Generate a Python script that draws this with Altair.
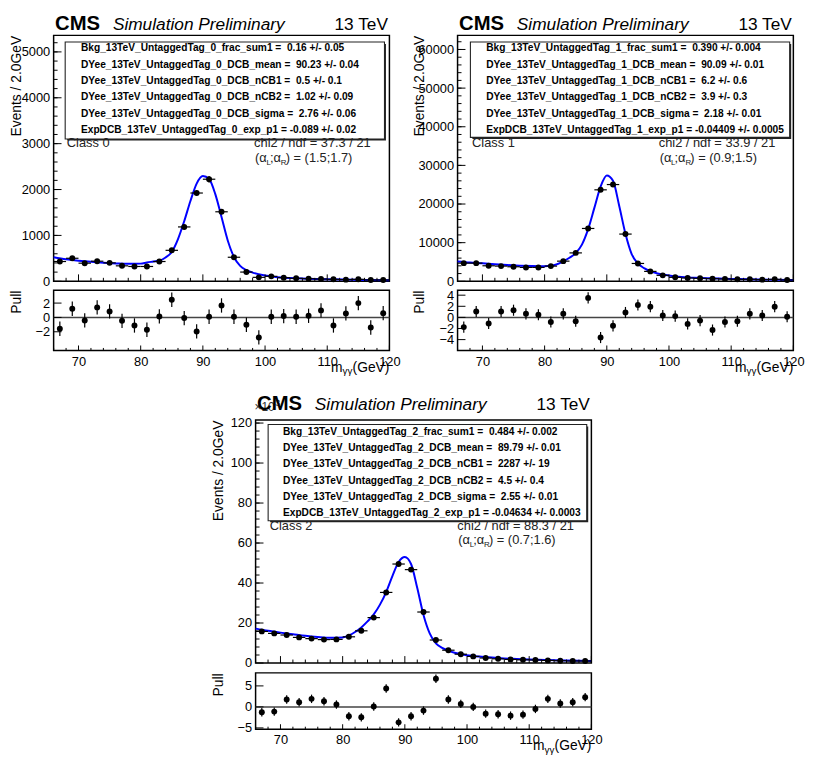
import altair as alt
import pandas as pd

FONT = "Liberation Sans"

# ---------------- data ----------------
mass = [67, 69, 71, 73, 75, 77, 79, 81, 83, 85, 87, 89, 91, 93, 95, 97, 99,
        101, 103, 105, 107, 109, 111, 113, 115, 117, 119]

events_0 = [431, 502, 395, 438, 402, 337, 323, 323, 431, 675, 1185, 1924, 2225,
            1515, 524, 201, 86, 108, 79, 65, 57, 50, 43, 36, 43, 29, 29]
errors_0 = [22, 23, 21, 22, 21, 19, 19, 19, 21, 27, 40, 55, 70, 50, 25, 15, 10,
            10, 9, 8, 8, 7, 7, 6, 7, 6, 6]
pulls_0 = [-1.58, 1.21, -0.42, 1.40, 0.84, -0.47, -1.12, -1.72, 0.14, 2.47, -0.09,
           -1.95, 0.09, 1.67, 0.09, -1.02, -2.79, 0.09, 0.19, 0.09, 0.23, 0.98,
           -1.12, 0.56, 2.0, -1.40, 0.6]
curve_m_0 = [66, 68, 70, 72, 74, 76, 78, 80, 81, 82, 83, 84, 85, 86, 87, 88, 89, 90,
             91, 92, 93, 94, 95, 96, 97, 98, 100, 102, 104, 106, 108, 110, 113, 116, 120]
curve_v_0 = [525, 480, 450, 425, 405, 390, 380, 385, 410, 430, 450, 520, 640, 920,
             1310, 1750, 2130, 2295, 2230, 1900, 1400, 890, 530, 335, 245, 190, 125,
             90, 72, 60, 52, 45, 38, 30, 22]

events_1 = [4700, 4700, 4017, 3932, 3761, 3590, 3590, 3932, 5214, 7350, 13675, 23675,
            25040, 12222, 4615, 2564, 1538, 1026, 855, 769, 684, 598, 513, 513, 427,
            513, 342]
errors_1 = [180, 180, 170, 170, 165, 160, 160, 165, 190, 230, 320, 420, 430, 300,
            180, 130, 100, 80, 75, 70, 65, 60, 55, 55, 50, 55, 45]
pulls_1 = [-1.75, 1.05, -1.11, 1.05, 1.29, 0.64, 0.47, -0.82, 0.64, -0.70, 3.51,
           -3.63, -1.52, 0.88, 2.22, 1.93, 0.35, 0.23, -1.17, -0.58, -2.28, -0.82,
           -0.70, 0.64, 0.35, 1.93, 0.12]
curve_m_1 = [66, 68, 70, 72, 74, 76, 78, 80, 81, 82, 83, 84, 85, 86, 87, 88, 89, 90,
             91, 92, 93, 94, 95, 96, 97, 98, 100, 102, 104, 106, 108, 110, 113, 116, 120]
curve_v_1 = [5130, 4850, 4650, 4400, 4200, 4050, 3950, 3900, 4000, 4400, 5150, 6100,
             7300, 9500, 13500, 19000, 24500, 27400, 26000, 19500, 12300, 7050, 4600,
             3400, 2600, 2100, 1500, 1100, 920, 800, 700, 620, 520, 430, 340]

events_2 = [15.8, 14.8, 14.0, 12.8, 12.2, 11.7, 11.8, 13.1, 16.1, 22.7, 35.3, 49.5,
            46.7, 25.5, 11.5, 6.4, 4.4, 3.3, 2.5, 2.1, 1.8, 1.6, 1.5, 1.3, 1.15, 1.0, 1.0]
errors_2 = [0.4, 0.4, 0.4, 0.35, 0.35, 0.35, 0.35, 0.35, 0.4, 0.5, 0.6, 0.7, 0.7, 0.5,
            0.35, 0.25, 0.2, 0.18, 0.15, 0.14, 0.13, 0.12, 0.12, 0.11, 0.1, 0.1, 0.1]
pulls_2 = [-1.28, -1.12, 1.76, 1.12, 1.92, 1.36, 0.56, -2.24, -2.48, 0.08, 4.4, -3.68,
           -2.24, -0.88, 6.72, 1.76, 0.72, 0.0, -1.6, -1.76, -2.08, -1.84, -0.48, 1.92,
           0.8, 1.12, 2.32]
curve_m_2 = [66, 68, 70, 72, 74, 76, 78, 80, 81, 82, 83, 84, 85, 86, 87, 88, 89, 90,
             91, 92, 93, 94, 95, 96, 97, 98, 100, 102, 104, 106, 108, 110, 113, 116, 120]
curve_v_2 = [17.2, 16.1, 15.2, 14.4, 13.6, 13.0, 12.6, 12.8, 13.8, 15.5, 17.8, 20.8,
             24.3, 29.2, 35.5, 43.5, 50.5, 53.0, 49.5, 37.5, 24.0, 14.8, 9.8, 7.6, 6.2,
             5.1, 3.9, 3.2, 2.7, 2.3, 2.0, 1.75, 1.5, 1.25, 1.0]

NB = "\u00a0"
params_0 = ["Bkg_13TeV_UntaggedTag_0_frac_sum1 =" + NB + " 0.16 +/- 0.05",
            "DYee_13TeV_UntaggedTag_0_DCB_mean =" + NB + " 90.23 +/- 0.04",
            "DYee_13TeV_UntaggedTag_0_DCB_nCB1 =" + NB + " 0.5 +/- 0.1",
            "DYee_13TeV_UntaggedTag_0_DCB_nCB2 =" + NB + " 1.02 +/- 0.09",
            "DYee_13TeV_UntaggedTag_0_DCB_sigma =" + NB + " 2.76 +/- 0.06",
            "ExpDCB_13TeV_UntaggedTag_0_exp_p1 = -0.089 +/- 0.02"]
params_1 = ["Bkg_13TeV_UntaggedTag_1_frac_sum1 =" + NB + " 0.390 +/- 0.004",
            "DYee_13TeV_UntaggedTag_1_DCB_mean =" + NB + " 90.09 +/- 0.01",
            "DYee_13TeV_UntaggedTag_1_DCB_nCB1 =" + NB + " 6.2 +/- 0.6",
            "DYee_13TeV_UntaggedTag_1_DCB_nCB2 =" + NB + " 3.9 +/- 0.3",
            "DYee_13TeV_UntaggedTag_1_DCB_sigma =" + NB + " 2.18 +/- 0.01",
            "ExpDCB_13TeV_UntaggedTag_1_exp_p1 = -0.04409 +/- 0.0005"]
params_2 = ["Bkg_13TeV_UntaggedTag_2_frac_sum1 =" + NB + " 0.484 +/- 0.002",
            "DYee_13TeV_UntaggedTag_2_DCB_mean =" + NB + " 89.79 +/- 0.01",
            "DYee_13TeV_UntaggedTag_2_DCB_nCB1 =" + NB + " 2287 +/- 19",
            "DYee_13TeV_UntaggedTag_2_DCB_nCB2 =" + NB + " 4.5 +/- 0.4",
            "DYee_13TeV_UntaggedTag_2_DCB_sigma =" + NB + " 2.55 +/- 0.01",
            "ExpDCB_13TeV_UntaggedTag_2_exp_p1 = -0.04634 +/- 0.0003"]

class_labels = ["Class 0", "Class 1", "Class 2"]
chi2_labels = ["chi2 / ndf = 37.3 / 21", "chi2 / ndf = 33.9 / 21", "chi2 / ndf = 88.3 / 21"]
alpha_values = [") = (1.5;1.7)", ") = (0.9;1.5)", ") = (0.7;1.6)"]

x_labels = [70, 80, 90, 100, 110, 120]
x_minor = [66, 68, 72, 74, 76, 78, 82, 84, 86, 88, 92, 94, 96, 98, 102, 104, 106,
           108, 112, 114, 116, 118]

ONE = pd.DataFrame({"k": [0]})
W = 340


def txt(x, y, s, size=13, weight="normal", style="normal", align="left",
        baseline="alphabetic", color="black"):
    return alt.Chart(ONE).mark_text(
        text=s, fontSize=size, fontWeight=weight, fontStyle=style, align=align,
        baseline=baseline, color=color, font=FONT
    ).encode(x=alt.value(x), y=alt.value(y))


def main_panel(p):
    H = p["H"]
    xs = alt.Scale(domain=[66, 120], nice=False, zero=False)
    ys = alt.Scale(domain=[0, p["ymax"]], nice=False, zero=False)
    yax = alt.Axis(values=p["ylab"], ticks=False, domain=False, grid=False,
                   labelFont=FONT, labelFontSize=13, labelColor="black",
                   labelPadding=4, labelFlush=False, labelOverlap=False, format="d",
                   title="Events / 2.0GeV", titleFont=FONT, titleFontSize=14,
                   titleFontWeight="normal", titleColor="black", titleAngle=270,
                   titleX=-38, titleY=0, titleAlign="right", titleBaseline="middle")

    def X(f):
        return alt.X(f, type="quantitative", scale=xs, axis=None)

    def Y(f):
        return alt.Y(f, type="quantitative", scale=ys, axis=yax)

    df = pd.DataFrame({"m": mass, "v": p["ev"], "e": p["err"]})
    df["lo"] = df["v"] - df["e"]
    df["hi"] = df["v"] + df["e"]
    df["xl"] = df["m"] - 1
    df["xr"] = df["m"] + 1
    cdf = pd.DataFrame({"g": p["cm"], "c": p["cv"]})

    layers = []
    layers.append(alt.Chart(cdf).mark_line(color="#0000ff", strokeWidth=2,
                                           interpolate="monotone")
                  .encode(x=X("g"), y=Y("c")))
    layers.append(alt.Chart(df).mark_rule(color="black", strokeWidth=1.2)
                  .encode(x=X("xl"), x2="xr", y=Y("v")))
    layers.append(alt.Chart(df).mark_rule(color="black", strokeWidth=1.2)
                  .encode(x=X("m"), y=Y("lo"), y2="hi"))
    layers.append(alt.Chart(df).mark_circle(size=36, color="black", opacity=1)
                  .encode(x=X("m"), y=Y("v")))
    # inward ticks
    layers.append(alt.Chart(pd.DataFrame({"t": x_labels})).mark_rule(color="black", strokeWidth=1)
                  .encode(x=X("t"), y=alt.value(H), y2=alt.value(H - 7)))
    layers.append(alt.Chart(pd.DataFrame({"t": x_minor})).mark_rule(color="black", strokeWidth=1)
                  .encode(x=X("t"), y=alt.value(H), y2=alt.value(H - 3.5)))
    layers.append(alt.Chart(pd.DataFrame({"t": p["ylab"]})).mark_rule(color="black", strokeWidth=1)
                  .encode(y=Y("t"), x=alt.value(0), x2=alt.value(8)))
    layers.append(alt.Chart(pd.DataFrame({"t": p["yminor"]})).mark_rule(color="black", strokeWidth=1)
                  .encode(y=Y("t"), x=alt.value(0), x2=alt.value(4)))
    # parameter box with a small drop shadow
    bx0, bx1, by0, by1 = p["box"]
    layers.append(alt.Chart(ONE).mark_rect(fill="#222", strokeWidth=0)
                  .encode(x=alt.value(bx0 + 2), x2=alt.value(bx1 + 1.5),
                          y=alt.value(by0 + 2), y2=alt.value(by1 + 1.5)))
    layers.append(alt.Chart(ONE).mark_rect(fill="white", stroke="#222", strokeWidth=1.1)
                  .encode(x=alt.value(bx0), x2=alt.value(bx1), y=alt.value(by0), y2=alt.value(by1)))
    for i, line in enumerate(p["params"]):
        layers.append(txt(p["tx"], p["ty"] + i * 16.5, line, size=10.3, weight="bold",
                          baseline="middle"))
    # class / chi2 / alpha
    cy = p["cy"]
    layers.append(txt(p["cx"], cy, p["cls"], size=13, baseline="middle", color="#222"))
    ax = p["ax"]
    layers.append(txt(ax, cy, p["chi2"], size=13, baseline="middle", color="#222"))
    ay = cy + 19
    layers.append(txt(ax + 1, ay, "(α", size=13, color="#222"))
    layers.append(txt(ax + 12.5, ay + 3, "L", size=8, color="#222"))
    layers.append(txt(ax + 16, ay, ";α", size=13, color="#222"))
    layers.append(txt(ax + 27, ay + 3, "R", size=8, color="#222"))
    layers.append(txt(ax + 32, ay, p["alpha"], size=13, color="#222"))
    # header
    hb = p["hb"]
    if p.get("x10"):
        layers.append(txt(-1, hb + 1, "×10", size=12, color="#333"))
        layers.append(txt(20, hb - 5, "3", size=9, color="#333"))
    layers.append(txt(1.5, hb, "CMS", size=20.5, weight="bold"))
    layers.append(txt(60, hb, "Simulation Preliminary", size=17.5, style="italic"))
    layers.append(txt(W - 1.5, hb, "13 TeV", size=17.5, align="right"))

    return alt.layer(*layers).properties(width=W, height=H)


def pull_panel(p):
    H = p["PH"]
    xs = alt.Scale(domain=[66, 120], nice=False, zero=False)
    ys = alt.Scale(domain=p["pdom"], nice=False, zero=False)
    xax = alt.Axis(values=x_labels, ticks=False, domain=False, grid=False,
                   labelFont=FONT, labelFontSize=13, labelColor="black",
                   labelPadding=5, labelFlush=False, labelOverlap=False, format="d",
                   title=None)
    yax = alt.Axis(values=p["plab"], ticks=False, domain=False, grid=False,
                   labelFont=FONT, labelFontSize=13, labelColor="black",
                   labelPadding=4, labelFlush=False, labelOverlap=False, format="d",
                   title="Pull", titleFont=FONT, titleFontSize=14,
                   titleFontWeight="normal", titleColor="black", titleAngle=270,
                   titleX=-38, titleY=0, titleAlign="right", titleBaseline="middle")

    def X(f):
        return alt.X(f, type="quantitative", scale=xs, axis=xax)

    def Y(f):
        return alt.Y(f, type="quantitative", scale=ys, axis=yax)

    df = pd.DataFrame({"m": mass, "p": p["pull"]})
    df["lo"] = df["p"] - 1
    df["hi"] = df["p"] + 1

    layers = []
    layers.append(alt.Chart(pd.DataFrame({"z": [0]})).mark_rule(color="#444", strokeWidth=1.5)
                  .encode(y=Y("z")))
    layers.append(alt.Chart(df).mark_rule(color="black", strokeWidth=1.2)
                  .encode(x=X("m"), y=Y("lo"), y2="hi"))
    layers.append(alt.Chart(df).mark_circle(size=36, color="black", opacity=1)
                  .encode(x=X("m"), y=Y("p")))
    layers.append(alt.Chart(pd.DataFrame({"t": x_labels})).mark_rule(color="black", strokeWidth=1)
                  .encode(x=X("t"), y=alt.value(H), y2=alt.value(H - 5)))
    layers.append(alt.Chart(pd.DataFrame({"t": x_minor})).mark_rule(color="black", strokeWidth=1)
                  .encode(x=X("t"), y=alt.value(H), y2=alt.value(H - 2.5)))
    layers.append(alt.Chart(pd.DataFrame({"t": p["plab"]})).mark_rule(color="black", strokeWidth=1)
                  .encode(y=Y("t"), x=alt.value(0), x2=alt.value(8)))
    # x title  m_{γγ}(GeV)
    layers.append(txt(W, H + 21.5, "(GeV)", size=14, align="right"))
    layers.append(txt(W - 37.5, H + 24, "γγ", size=10, align="right"))
    layers.append(txt(W - 47.5, H + 21.5, "m", size=14, align="right"))
    return alt.layer(*layers).properties(width=W, height=H)


panels = [
    dict(ev=events_0, err=errors_0, pull=pulls_0, cm=curve_m_0, cv=curve_v_0,
         H=249, ymax=5360, ylab=[0, 1000, 2000, 3000, 4000, 5000],
         yminor=list(range(200, 5360, 200)),
         PH=61, pdom=[-4.6, 3.8], plab=[-2, 0, 2],
         box=(11.7, 335, 6.7, 105), params=params_0, tx=27.7, ty=13.3,
         cx=13.3, cy=109, ax=203, cls=class_labels[0], chi2=chi2_labels[0],
         alpha=alpha_values[0], hb=-5.7),
    dict(ev=events_1, err=errors_1, pull=pulls_1, cm=curve_m_1, cv=curve_v_1,
         H=249, ymax=63650, ylab=[0, 10000, 20000, 30000, 40000, 50000, 60000],
         yminor=list(range(2000, 63650, 2000)),
         PH=61, pdom=[-5.95, 4.9], plab=[-4, -2, 0, 2, 4],
         box=(13, 336.3, 6.7, 103.3), params=params_1, tx=29, ty=13.3,
         cx=14.7, cy=109, ax=203.7, cls=class_labels[1], chi2=chi2_labels[1],
         alpha=alpha_values[1], hb=-5.7),
    dict(ev=events_2, err=errors_2, pull=pulls_2, cm=curve_m_2, cv=curve_v_2,
         H=246, ymax=121.5, ylab=[0, 20, 40, 60, 80, 100, 120],
         yminor=list(range(4, 122, 4)),
         PH=57, pdom=[-5.3, 8.1], plab=[-5, 0, 5],
         box=(12.7, 335.3, 4.5, 102), params=params_2, tx=27.7, ty=12,
         cx=14.3, cy=107, ax=204.3, cls=class_labels[2], chi2=chi2_labels[2],
         alpha=alpha_values[2], hb=-9.7, x10=True),
]

p0 = alt.vconcat(main_panel(panels[0]), pull_panel(panels[0]), spacing=9, bounds="flush")
p1 = alt.vconcat(main_panel(panels[1]), pull_panel(panels[1]), spacing=9, bounds="flush")
p2 = alt.vconcat(main_panel(panels[2]), pull_panel(panels[2]), spacing=10, bounds="flush")
top = alt.hconcat(p0, p1, spacing=11, bounds="full")

chart = alt.vconcat(top, p2, spacing=16.5, bounds="full", center=True).properties(
    padding={"left": 0, "top": 0, "right": 0, "bottom": 0},
    background="white",
).configure_view(stroke="black", strokeWidth=1.5)

chart.save("out.html", embed_options={"renderer": "svg", "actions": False})
